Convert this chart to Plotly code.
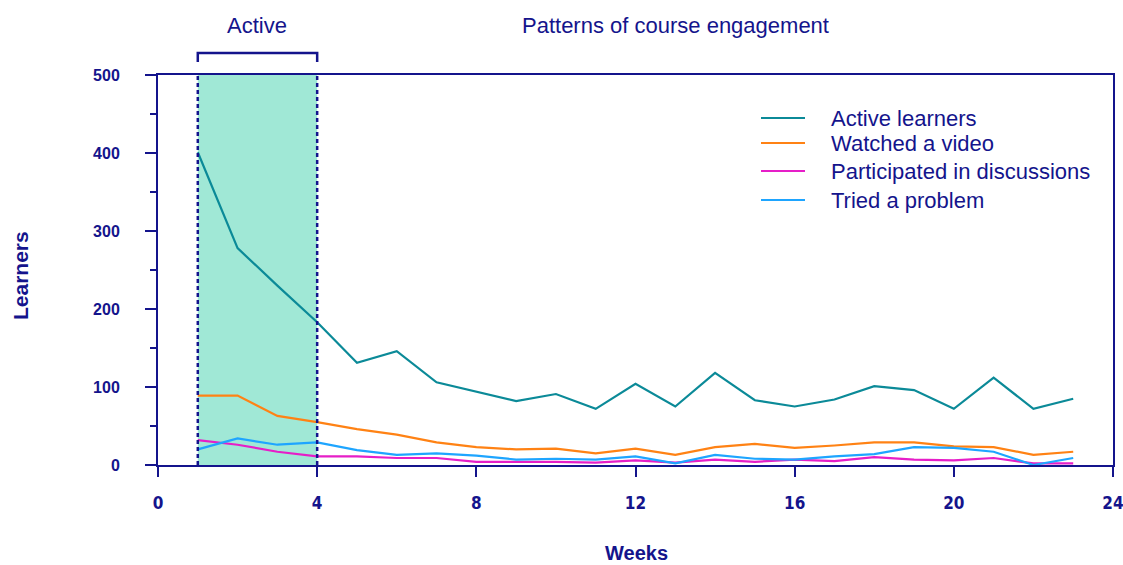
import plotly.graph_objects as go

weeks = list(range(1, 24))
active_learners = [401, 278, 230, 183, 131, 146, 106, 94, 82, 91, 72, 104, 75, 118, 83, 75, 84, 101, 96, 72, 112, 72, 85]
watched_video = [89, 89, 63, 55, 46, 39, 29, 23, 20, 21, 15, 21, 13, 23, 27, 22, 25, 29, 29, 24, 23, 13, 17]
discussions = [32, 26, 17, 11, 11, 9, 9, 4, 4, 4, 3, 6, 3, 7, 4, 7, 5, 10, 7, 6, 9, 2, 2]
tried_problem = [20, 34, 26, 29, 19, 13, 15, 12, 7, 8, 7, 11, 2, 13, 8, 7, 11, 14, 23, 22, 17, 0, 9]

series_names = ["Active learners", "Watched a video", "Participated in discussions", "Tried a problem"]
series_colors = ["#0b8a98", "#ff8214", "#e61ec8", "#1ea5ff"]
series_values = [active_learners, watched_video, discussions, tried_problem]

x_ticks = [0, 4, 8, 12, 16, 20, 24]
y_ticks = [0, 100, 200, 300, 400, 500]
active_start, active_end = 1, 4

NAVY = "#14148c"

# plot area in page pixels: x 158..1113, y 75..465
def px_x(q):
    return (q - 158) / 955.0

def px_y(p):
    return (465 - p) / 390.0

fig = go.Figure()
for name, color, vals in zip(series_names, series_colors, series_values):
    fig.add_trace(go.Scatter(x=weeks, y=vals, mode="lines", name=name,
                             line=dict(color=color, width=2.2), showlegend=False))

# shaded active region
fig.add_shape(type="rect", xref="x", yref="y", x0=active_start, x1=active_end, y0=0, y1=500,
              fillcolor="#a0e8d6", line=dict(width=0), layer="below")
for xv in (active_start, active_end):
    fig.add_shape(type="line", xref="x", yref="y", x0=xv, x1=xv, y0=0, y1=500,
                  line=dict(color=NAVY, width=2.5, dash="4px,3px"))
# bracket
fig.add_shape(type="path", xref="x", yref="paper",
              path=f"M {active_start},{px_y(62)} L {active_start},{px_y(53)} L {active_end},{px_y(53)} L {active_end},{px_y(62)}",
              line=dict(color=NAVY, width=2.5))

fig.add_annotation(x=(active_start + active_end) / 2, xref="x", y=px_y(25), yref="paper",
                   yanchor="middle", text="Active", showarrow=False, font=dict(size=22, color=NAVY))
fig.add_annotation(x=px_x(675), xref="paper", y=px_y(25), yref="paper", yanchor="middle",
                   text="Patterns of course engagement", showarrow=False,
                   font=dict(size=22, color=NAVY))
fig.add_annotation(x=px_x(636), xref="paper", y=px_y(553), yref="paper", yanchor="middle",
                   text="<b>Weeks</b>", showarrow=False, font=dict(size=20, color=NAVY))
fig.add_annotation(x=px_x(20), xref="paper", y=px_y(276), yref="paper", xanchor="center",
                   yanchor="middle", text="<b>Learners</b>", showarrow=False, textangle=-90,
                   font=dict(size=21, color=NAVY))

# legend drawn as sample lines + labels
legend_rows = [118, 143, 171, 200]
for name, color, row in zip(series_names, series_colors, legend_rows):
    fig.add_shape(type="line", xref="paper", yref="paper", x0=px_x(761), x1=px_x(805),
                  y0=px_y(row), y1=px_y(row), line=dict(color=color, width=2))
    fig.add_annotation(x=px_x(829), xref="paper", y=px_y(row), yref="paper",
                       xanchor="left", yanchor="middle", text=name, showarrow=False,
                       font=dict(size=22, color=NAVY))

fig.update_layout(
    width=1123, height=565,
    margin=dict(l=158, r=10, t=75, b=100),
    paper_bgcolor="white", plot_bgcolor="white",
    font=dict(family="Liberation Sans, Arial, sans-serif", color=NAVY),
    showlegend=False,
)
fig.update_xaxes(range=[0, 24], tickvals=x_ticks, ticks="outside", ticklen=10, tickwidth=2,
                 tickcolor=NAVY, showline=True, linecolor=NAVY, linewidth=2, mirror=True,
                 showgrid=False, zeroline=False, ticklabelstandoff=12, automargin=False,
                 ticklabeloverflow="allow",
                 tickfont=dict(size=17, color=NAVY,
                               family="DejaVu Sans Condensed, Liberation Sans Narrow, Liberation Sans, Arial",
                               weight="bold"))
fig.update_yaxes(range=[0, 500], tickvals=y_ticks, ticks="outside", ticklen=11, tickwidth=2,
                 tickcolor=NAVY, showline=True, linecolor=NAVY, linewidth=2, mirror=True,
                 showgrid=False, zeroline=False, ticklabelstandoff=22, automargin=False,
                 minor=dict(dtick=50, ticks="outside", ticklen=6, tickwidth=2, tickcolor=NAVY, showgrid=False),
                 tickfont=dict(size=16, color=NAVY, weight="bold"))

fig.write_html("out.html", config={"displayModeBar": False},
               post_script="document.body.style.margin='0px';document.body.style.overflow='hidden';")
